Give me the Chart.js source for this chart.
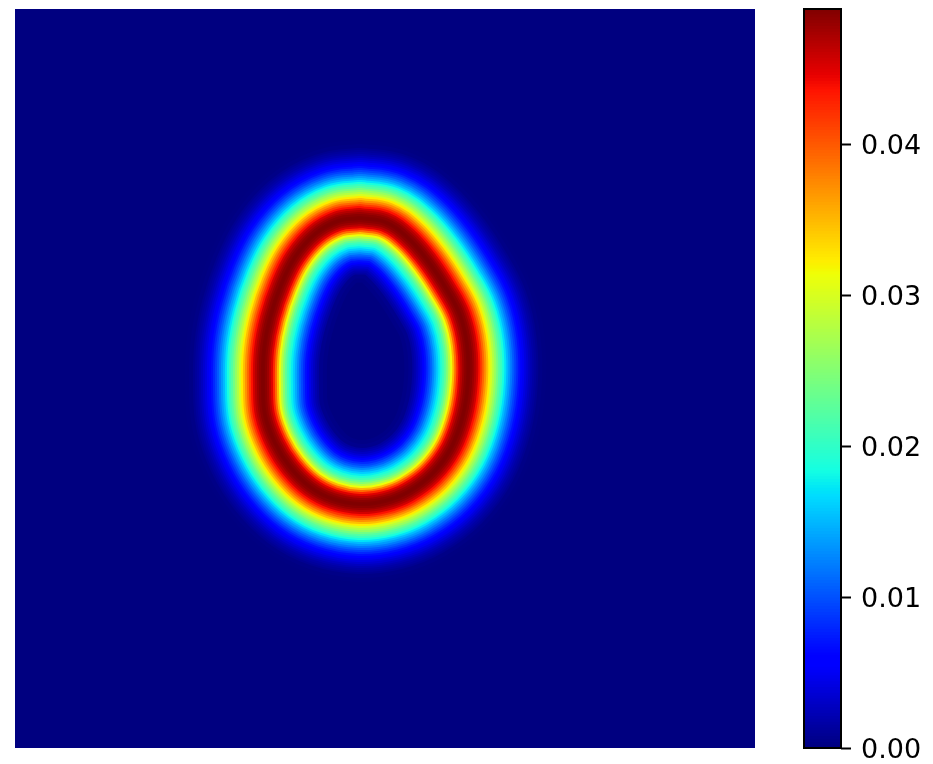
<!DOCTYPE html>
<html>
<head>
<meta charset="utf-8">
<title>Heatmap</title>
<script src="https://cdn.jsdelivr.net/npm/chart.js@4"></script>
<style>
    body { margin: 0; background: #fff; }
    canvas { position: absolute; }
    #heat { left: 15px; top: 9px; }
    #bar { left: 790px; top: 0; }
</style>
</head>
<body>
<canvas id="heat" width="740" height="739"></canvas>
<canvas id="bar" width="143" height="764"></canvas>
<script>
// crest of the ring, in picture coordinates
const ridgeX = [360, 385, 407, 428, 447, 460, 467, 468, 463, 451, 432, 408, 385, 360, 333, 310, 290, 275, 265, 263, 264, 270, 281, 295, 315, 338, 360];
const ridgeY = [218, 222, 237, 261, 290, 315, 345, 380, 415, 448, 474, 492, 501, 504, 499, 487, 467, 443, 415, 385, 350, 318, 285, 257, 234, 221, 218];

// value against distance from the crest, outside the ring
const outerOffset = [1, 2, 4, 6, 8, 10, 12, 14, 16, 18, 20, 22, 24, 26, 28, 30, 32, 34, 36, 38, 40, 42, 44, 46, 48, 50, 52, 54, 56, 58, 60, 62, 64, 66, 68, 70, 74, 78];
const outerValue = [.0490, .0489, .0485, .0478, .0468, .0455, .0437, .0416, .0393, .0370, .0347, .0323, .0299, .0279, .0260, .0240, .0221, .0206, .0186, .0170, .0150, .0135, .0120, .0105, .0092, .0080, .0068, .0058, .0049, .0041, .0034, .0027, .0021, .0016, .0012, .0008, .0003, .0001];

// same, inside the ring
const innerOffset = [6, 8, 10, 12, 14, 16, 18, 20, 22, 24, 26, 28, 30, 32, 34, 36, 38, 40, 42, 44, 46, 48, 50, 52, 54, 56, 60, 64, 80];
const innerValue = [.0478, .0466, .0450, .0425, .0390, .0350, .0312, .0280, .0252, .0228, .0208, .0192, .0176, .0160, .0144, .0127, .0110, .0096, .0082, .0068, .0055, .0045, .0036, .0028, .0021, .0015, .0006, .0003, 0];

const barTicks = [0, 0.01, 0.02, 0.03, 0.04];
const valueMax = 0.049;

const jetR = [[0, 0], [.35, 0], [.66, 1], [.89, 1], [1, .5]];
const jetG = [[0, 0], [.125, 0], [.375, 1], [.64, 1], [.91, 0], [1, 0]];
const jetB = [[0, .5], [.11, 1], [.34, 1], [.65, 0], [1, 0]];

function channel(stops, t) {
    for (let i = 1; i < stops.length; i++) {
        if (t <= stops[i][0]) {
            const a = stops[i - 1], b = stops[i];
            return a[1] + (b[1] - a[1]) * (t - a[0]) / (b[0] - a[0]);
        }
    }
    return stops[stops.length - 1][1];
}

function jet(v) {
    const t = Math.min(1, Math.max(0, v / valueMax));
    return `rgb(${Math.round(channel(jetR, t) * 255)}, ${Math.round(channel(jetG, t) * 255)}, ${Math.round(channel(jetB, t) * 255)})`;
}

const ridge = ridgeX.map((x, i) => ({ x: x, y: ridgeY[i] }));

function band(offset, value, inside) {
    return {
        data: ridge,
        inside: inside,
        borderColor: jet(value),
        borderWidth: c => {
            const sx = c.chart.scales.x;
            return sx ? 2 * (sx.getPixelForValue(sx.min + offset) - sx.left) : 1;
        }
    };
}

// painted from the far edge in to the crest, so each band sits on the wider one
const paintOrder = [];
for (let i = outerOffset.length - 1; i >= 0; i--) paintOrder.push(band(outerOffset[i], outerValue[i], false));
for (let i = innerOffset.length - 1; i >= 0; i--) paintOrder.push(band(innerOffset[i], innerValue[i], true));
// the crest goes on last and hides the edge of the clip
for (let i = 2; i >= 0; i--) paintOrder.push(band(outerOffset[i], outerValue[i], false));

const insideClip = {
    id: 'insideClip',
    beforeDraw(chart) {
        const a = chart.chartArea;
        chart.ctx.fillStyle = jet(0);
        chart.ctx.fillRect(a.left, a.top, a.right - a.left, a.bottom - a.top);
    },
    beforeDatasetDraw(chart, args) {
        if (!chart.data.datasets[args.index].inside) return;
        const ctx = chart.ctx;
        ctx.save();
        ctx.beginPath();
        args.meta.dataset.path(ctx);
        ctx.clip();
    },
    afterDatasetDraw(chart, args) {
        if (chart.data.datasets[args.index].inside) chart.ctx.restore();
    }
};

new Chart(document.getElementById('heat'), {
    type: 'scatter',
    data: { datasets: paintOrder.reverse() },
    options: {
        responsive: false,
        animation: false,
        events: [],
        showLine: true,
        layout: { padding: 0 },
        elements: {
            point: { radius: 0 },
            line: { tension: 0.4, borderJoinStyle: 'round', borderCapStyle: 'round', fill: false }
        },
        plugins: { legend: { display: false }, tooltip: { enabled: false } },
        scales: {
            x: { type: 'linear', min: 15, max: 755, display: false },
            y: { type: 'linear', min: 9, max: 748, reverse: true, display: false }
        }
    },
    plugins: [insideClip]
});

// colour bar: overlapping bars from zero, shortest on top
const barSets = [];
for (let i = 256; i >= 1; i--) barSets.unshift({ data: [valueMax * i / 256], backgroundColor: jet(valueMax * (i - 0.5) / 256) });

const barFrame = {
    id: 'barFrame',
    afterDraw(chart) {
        const a = chart.chartArea, ctx = chart.ctx;
        ctx.save();
        ctx.strokeStyle = '#000';
        ctx.lineWidth = 2;
        ctx.strokeRect(a.left, a.top, a.right - a.left, a.bottom - a.top);
        ctx.restore();
    }
};

new Chart(document.getElementById('bar'), {
    type: 'bar',
    data: { labels: [''], datasets: barSets },
    options: {
        responsive: false,
        animation: false,
        events: [],
        layout: { padding: { left: 14, top: 9, bottom: 16, right: 0 } },
        datasets: { bar: { grouped: false, barPercentage: 1, categoryPercentage: 1, borderWidth: 0 } },
        plugins: { legend: { display: false }, tooltip: { enabled: false } },
        scales: {
            x: { display: false },
            y: {
                position: 'right',
                min: 0,
                max: valueMax,
                afterFit: s => { s.width = 92; s.paddingTop = 0; s.paddingBottom = 0; },
                afterBuildTicks: s => { s.ticks = barTicks.map(v => ({ value: v })); },
                grid: { drawOnChartArea: false, drawTicks: true, tickLength: 10, tickColor: '#000', tickWidth: 2 },
                border: { display: false },
                ticks: {
                    color: '#000',
                    padding: 10,
                    autoSkip: false,
                    maxRotation: 0,
                    labelOffset: 2.5,
                    font: { family: 'DejaVu Sans', size: 27 },
                    callback: v => v.toFixed(2)
                }
            }
        }
    },
    plugins: [barFrame]
});
</script>
</body>
</html>
